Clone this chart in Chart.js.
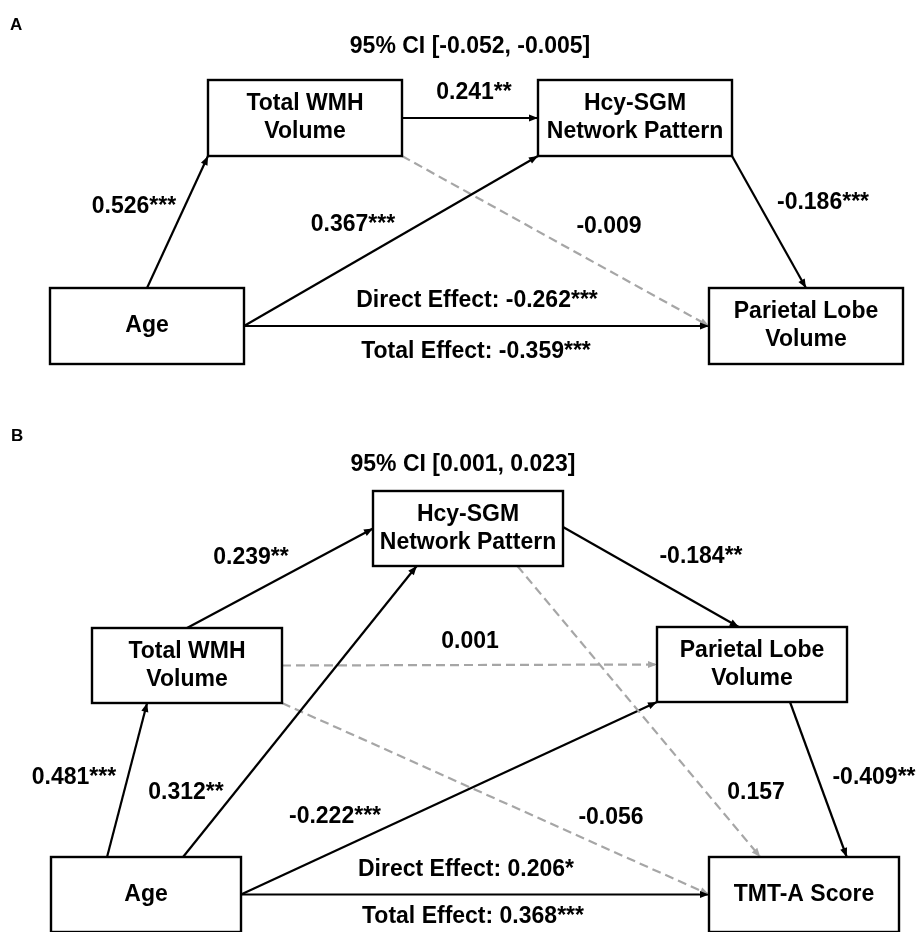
<!DOCTYPE html>
<html>
<head>
<meta charset="utf-8">
<script src="https://cdn.jsdelivr.net/npm/chart.js@4.4.1/dist/chart.umd.min.js"></script>
<style>
  html, body { margin: 0; padding: 0; background: #fff; }
  #wrap { width: 919px; height: 932px; }
</style>
</head>
<body>
<div id="wrap"><canvas id="chart" width="919" height="932"></canvas></div>
<script>
// ─── Data: panel A (Age → WMH → Hcy-SGM → Parietal) ─────────────────────────
const nodesA = ['Total WMH\nVolume', 'Hcy-SGM\nNetwork Pattern', 'Age', 'Parietal Lobe\nVolume'];
const fromA  = [2, 0, 2, 0, 1, 2];
const toA    = [0, 1, 1, 3, 3, 3];
const coefA  = ['0.526***', '0.241**', '0.367***', '-0.009', '-0.186***', 'Direct Effect: -0.262***'];
const sigA   = [1, 1, 1, 0, 1, 1];
const ciA    = '95% CI [-0.052, -0.005]';
const totalA = 'Total Effect: -0.359***';

// ─── Data: panel B (Age → ... → TMT-A) ──────────────────────────────────────
const nodesB = ['Hcy-SGM\nNetwork Pattern', 'Total WMH\nVolume', 'Parietal Lobe\nVolume', 'Age', 'TMT-A Score'];
const fromB  = [1, 3, 3, 0, 1, 1, 0, 3, 2, 3];
const toB    = [0, 1, 0, 2, 2, 4, 4, 2, 4, 4];
const coefB  = ['0.239**', '0.481***', '0.312**', '-0.184**', '0.001', '-0.056', '0.157', '-0.222***', '-0.409**', 'Direct Effect: 0.206*'];
const sigB   = [1, 1, 1, 1, 0, 0, 0, 1, 1, 1];
const ciB    = '95% CI [0.001, 0.023]';
const totalB = 'Total Effect: 0.368***';

// ─── Layout (figure pixel space, y downwards) ───────────────────────────────
const W = 919, H = 932;
const boxSizeA = [194, 76];
const boxesA   = [[208, 80], [538, 80], [50, 288], [709, 288]];           // top-left corners
// [fx, fy] on the source box, [fx, fy] on the target box
const anchorsA = [[0.5, 0, 0, 1], [1, 0.5, 0, 0.5], [1, 0.5, 0, 1], [1, 1, 0, 0.5], [1, 1, 0.5, 0], [1, 0.5, 0, 0.5]];
const labelPosA = [[134, 207], [474, 93], [353, 225], [609, 227], [823, 203], [477, 301]];

const boxSizeB = [190, 75];
const boxesB   = [[373, 491], [92, 628], [657, 627], [51, 857], [709, 857]];
const anchorsB = [[0.5, 0, 0, 0.5], [0.295, 0, 0.29, 1], [0.695, 0, 0.23, 1], [1, 0.48, 0.43, 0],
                  [1, 0.5, 0, 0.5], [1, 1, 0, 0.5], [0.76, 1, 0.27, 0], [1, 0.5, 0, 1],
                  [0.7, 1, 0.725, 0], [1, 0.5, 0, 0.5]];
const labelPosB = [[251, 558], [74, 778], [186, 793], [701, 557], [470, 642], [611, 818], [756, 793], [335, 817], [874, 778], [466, 870]];

const FONT = "'Liberation Sans', Arial, sans-serif";
const DASH_GREY = '#a6a6a6';

function anchor(box, size, fx, fy) {
  return { x: box[0] + fx * size[0], y: box[1] + fy * size[1] };
}

function edgeDatasets(from, to, sig, boxes, size, anchors) {
  return from.map((f, i) => {
    const a = anchors[i];
    return {
      data: [anchor(boxes[f], size, a[0], a[1]), anchor(boxes[to[i]], size, a[2], a[3])],
      showLine: true,
      borderColor: sig[i] ? '#000' : DASH_GREY,
      backgroundColor: sig[i] ? '#000' : DASH_GREY,
      borderWidth: 2.2,
      borderDash: sig[i] ? [] : [9, 5],
      pointRadius: 0,
      pointHoverRadius: 0,
    };
  });
}

const texts = [
  ...coefA.map((t, i) => ({ t, x: labelPosA[i][0], y: labelPosA[i][1] })),
  ...coefB.map((t, i) => ({ t, x: labelPosB[i][0], y: labelPosB[i][1] })),
  { t: ciA, x: 470, y: 47 }, { t: totalA, x: 476, y: 352 },
  { t: ciB, x: 463, y: 465 }, { t: totalB, x: 473, y: 917 },
];

const boxes = [
  ...nodesA.map((n, i) => ({ n, b: boxesA[i], s: boxSizeA })),
  ...nodesB.map((n, i) => ({ n, b: boxesB[i], s: boxSizeB })),
];

const diagramPlugin = {
  id: 'diagram',
  beforeDraw(chart) {
    const { ctx } = chart;
    ctx.save();
    ctx.fillStyle = '#fff';
    ctx.fillRect(0, 0, chart.width, chart.height);
    ctx.restore();
  },
  afterDatasetsDraw(chart) {
    const { ctx, scales: { x, y } } = chart;
    ctx.save();

    // arrow heads
    chart.data.datasets.forEach((ds, i) => {
      const pts = chart.getDatasetMeta(i).data;
      const p0 = pts[0], p1 = pts[1];
      const ang = Math.atan2(p1.y - p0.y, p1.x - p0.x);
      const len = 9, half = 3.6;
      ctx.fillStyle = ds.borderColor;
      ctx.beginPath();
      ctx.moveTo(p1.x, p1.y);
      ctx.lineTo(p1.x - len * Math.cos(ang) + half * Math.sin(ang), p1.y - len * Math.sin(ang) - half * Math.cos(ang));
      ctx.lineTo(p1.x - len * Math.cos(ang) - half * Math.sin(ang), p1.y - len * Math.sin(ang) + half * Math.cos(ang));
      ctx.closePath();
      ctx.fill();
    });

    // boxes
    ctx.strokeStyle = '#000';
    ctx.lineWidth = 2.4;
    ctx.fillStyle = '#000';
    ctx.font = `bold 23px ${FONT}`;
    ctx.textAlign = 'center';
    ctx.textBaseline = 'middle';
    boxes.forEach(({ n, b, s }) => {
      const x0 = x.getPixelForValue(b[0]), y0 = y.getPixelForValue(b[1]);
      const x1 = x.getPixelForValue(b[0] + s[0]), y1 = y.getPixelForValue(b[1] + s[1]);
      ctx.strokeRect(x0, y0, x1 - x0, y1 - y0);
      const lines = n.split('\n');
      const cx = (x0 + x1) / 2, cy = (y0 + y1) / 2;
      lines.forEach((ln, k) => {
        ctx.fillText(ln, cx, cy + (k - (lines.length - 1) / 2) * 28);
      });
    });

    // coefficient / CI / total texts
    texts.forEach(({ t, x: tx, y: ty }) => {
      ctx.fillText(t, x.getPixelForValue(tx), y.getPixelForValue(ty));
    });

    // panel letters
    ctx.font = `bold 17px ${FONT}`;
    ctx.textAlign = 'left';
    ctx.fillText('A', x.getPixelForValue(10), y.getPixelForValue(25));
    ctx.fillText('B', x.getPixelForValue(11), y.getPixelForValue(436));
    ctx.restore();
  },
};

new Chart(document.getElementById('chart'), {
  type: 'scatter',
  data: {
    datasets: [
      ...edgeDatasets(fromA, toA, sigA, boxesA, boxSizeA, anchorsA),
      ...edgeDatasets(fromB, toB, sigB, boxesB, boxSizeB, anchorsB),
    ],
  },
  options: {
    responsive: false,
    animation: false,
    layout: { padding: 0 },
    plugins: { legend: { display: false }, tooltip: { enabled: false } },
    scales: {
      x: { type: 'linear', min: 0, max: W, display: false },
      y: { type: 'linear', min: 0, max: H, reverse: true, display: false },
    },
  },
  plugins: [diagramPlugin],
});
</script>
</body>
</html>
